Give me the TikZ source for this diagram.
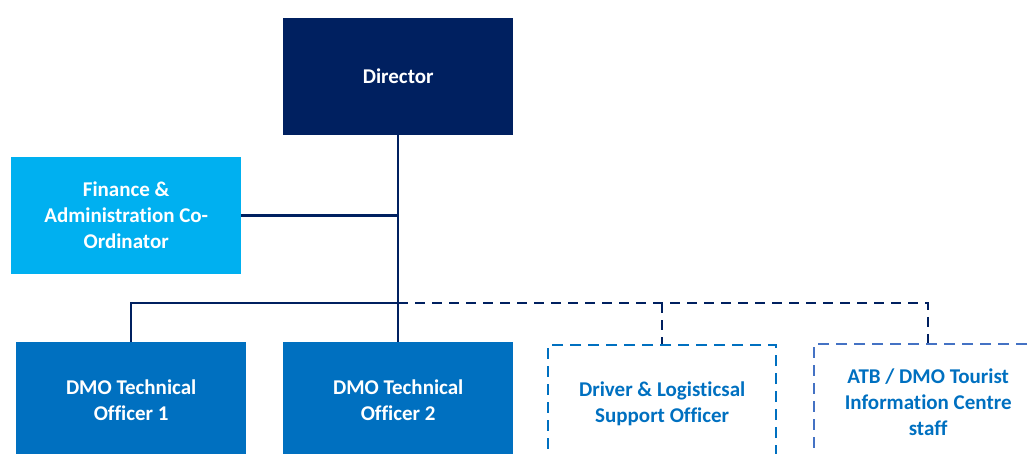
\documentclass[tikz,border=0pt]{standalone}
\usepackage{fontspec}
\setmainfont{Carlito}[Ligatures=NoCommon]
\definecolor{navy}{HTML}{002060}
\definecolor{skyblue}{HTML}{00B0F0}
\definecolor{midblue}{HTML}{0070C0}
\definecolor{softblue}{HTML}{4472C4}
\begin{document}
\begin{tikzpicture}[x=1pt,y=-1pt,
  box/.style={rectangle, minimum width=230pt, minimum height=117pt, inner sep=0pt,
    align=center, font=\fontsize{21}{26}\selectfont\bfseries},
  solidbox/.style={box, text=white},
  dashbox/.style={box, minimum width=228pt, line width=2.4pt,
    dash pattern=on 11pt off 7pt, text=midblue},
  link/.style={draw=navy, line width=2.5pt},
  dashlink/.style={link, dash pattern=on 10pt off 7pt}]
\useasboundingbox (0,0) rectangle (1030,454);
\clip (0,0) rectangle (1030,454);

% boxes
\node[solidbox, fill=navy, anchor=north west] (dir) at (283,18) {Director};
\node[solidbox, fill=skyblue, anchor=north west] (fin) at (11,157)
  {Finance \&\\Administration Co-\\Ordinator};
\node[solidbox, fill=midblue, anchor=north west] (dmo1) at (16,342)
  {DMO Technical\\Officer 1};
\node[solidbox, fill=midblue, anchor=north west] (dmo2) at (283,342)
  {DMO Technical\\Officer 2};
\node[dashbox, draw=midblue, anchor=north west] (drv) at (547,344)
  {Driver \& Logisticsal\\Support Officer};
\node[dashbox, draw=softblue, anchor=north west] (atb) at (813,343)
  {ATB / DMO Tourist\\Information Centre\\staff};

% junction points
\coordinate (jrow) at (398,303);

% solid reporting lines
\draw[link] (dir.south) -- (dmo2.north);
\draw[link] (fin.east) -- (fin.east -| dir.south);
\draw[link] (jrow) -| (dmo1.north);

% dotted-line reporting
\draw[dashlink] (jrow) -| (atb.north);
\draw[dashlink] (jrow -| drv.north) -- (drv.north);
\end{tikzpicture}
\end{document}
